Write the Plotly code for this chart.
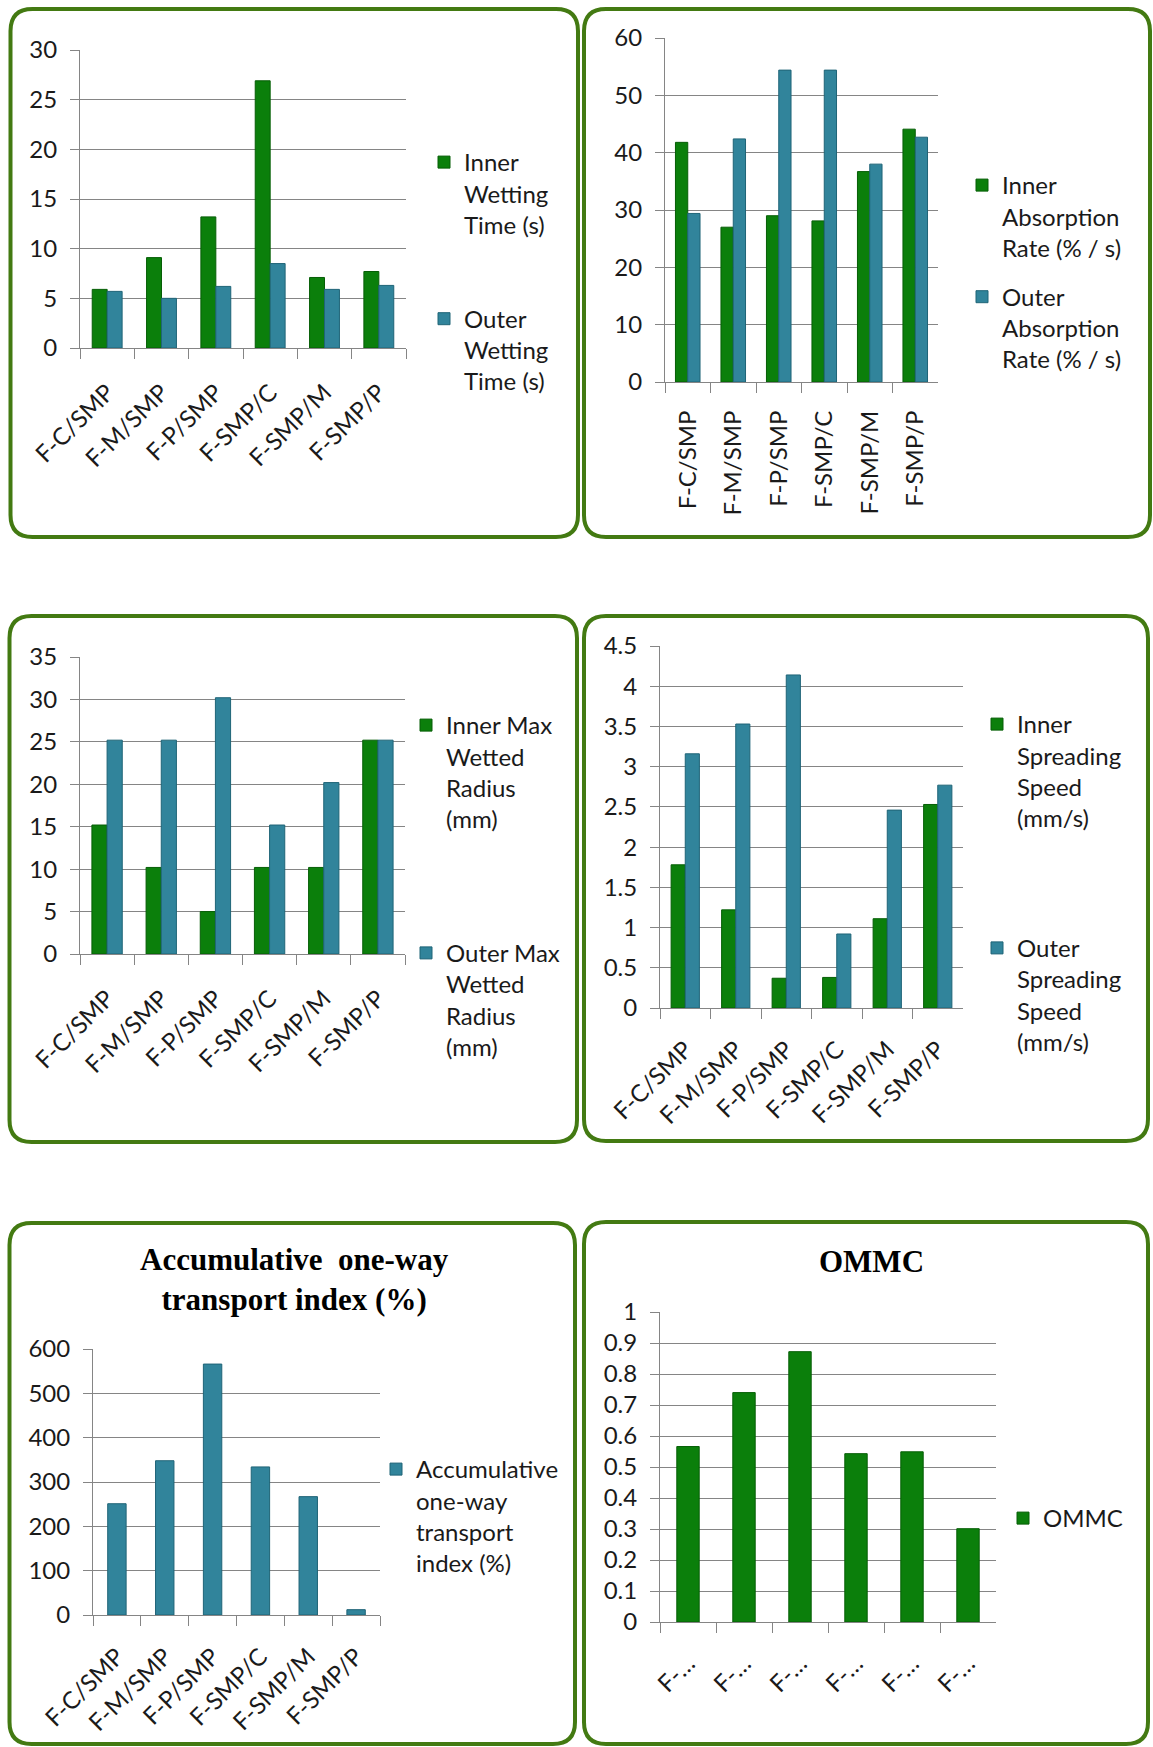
import plotly.graph_objects as go

W, H = 1153, 1747

categories = ["F-C/SMP", "F-M/SMP", "F-P/SMP", "F-SMP/C", "F-SMP/M", "F-SMP/P"]
ommc_ticktext = ["F-…", "F-…", "F-…", "F-…", "F-…", "F-…"]

wetting_inner = [5.9, 9.1, 13.2, 26.9, 7.1, 7.7]
wetting_outer = [5.7, 5.0, 6.2, 8.5, 5.9, 6.3]
absorption_inner = [41.8, 27.0, 29.0, 28.1, 36.7, 44.1]
absorption_outer = [29.4, 42.4, 54.4, 54.4, 38.0, 42.7]
radius_inner = [15.2, 10.2, 5.0, 10.2, 10.2, 25.2]
radius_outer = [25.2, 25.2, 30.2, 15.2, 20.2, 25.2]
speed_inner = [1.78, 1.22, 0.37, 0.38, 1.11, 2.53]
speed_outer = [3.16, 3.53, 4.14, 0.92, 2.46, 2.77]
transport_index = [251, 348, 566, 334, 267, 12]
ommc = [0.566, 0.740, 0.872, 0.543, 0.549, 0.301]

GREEN = "#0B7F0B"
GREEN_EDGE = "#065E06"
BLUE = "#31849B"
BLUE_EDGE = "#1F6477"
GRID = "#858585"
FONT = "Lato"
TXT = "#1A1A1A"


def px_x(v):
    return v / W


def px_y(v):
    return 1 - v / H


fig = go.Figure()

# panel definitions: plot area in pixels (x0, x1, y_top, y_bottom)
panels = [
    dict(area=(80, 406, 50, 348), rng=[0, 30], dtick=5, angle=-45, xstand=20),
    dict(area=(665, 938, 38, 382), rng=[0, 60], dtick=10, angle=-90, xstand=18),
    dict(area=(80, 405, 657, 954), rng=[0, 35], dtick=5, angle=-45, xstand=20),
    dict(area=(660, 963, 646, 1008), rng=[0, 4.5], dtick=0.5, angle=-45, xstand=17),
    dict(area=(93, 380, 1349, 1615), rng=[0, 600], dtick=100, angle=-45, xstand=17),
    dict(area=(660, 996, 1312, 1622), rng=[0, 1], dtick=0.1, angle=-45, xstand=17),
]

series = [
    [("Inner<br>Wetting<br>Time (s)", wetting_inner, "i"), ("Outer<br>Wetting<br>Time (s)", wetting_outer, "o")],
    [("Inner<br>Absorption<br>Rate (% / s)", absorption_inner, "i"), ("Outer<br>Absorption<br>Rate (% / s)", absorption_outer, "o")],
    [("Inner Max<br>Wetted<br>Radius<br>(mm)", radius_inner, "i"), ("Outer Max<br>Wetted<br>Radius<br>(mm)", radius_outer, "o")],
    [("Inner<br>Spreading<br>Speed<br>(mm/s)", speed_inner, "i"), ("Outer<br>Spreading<br>Speed<br>(mm/s)", speed_outer, "o")],
    [("Accumulative<br>one-way<br>transport<br>index (%)", transport_index, "o")],
    [("OMMC", ommc, "i")],
]

bar_w = [0.275, 0.27, 0.28, 0.28, 0.385, 0.40]

# legend: (text start x px, first line center y px, group gap)
legend_pos = [(464, 158, 60), (1002, 181, 15), (446, 721, 100), (1017, 720, 96), (416, 1465, 10), (1043, 1514, 10)]

layout = dict(
    template="none",
    width=W, height=H, margin=dict(l=0, r=0, t=0, b=0, autoexpand=False),
    paper_bgcolor="white", plot_bgcolor="white",
    barmode="overlay", showlegend=True,
    font=dict(family=FONT, size=24, color=TXT),
)

for i, (p, ser) in enumerate(zip(panels, series)):
    n = i + 1
    sfx = "" if n == 1 else str(n)
    x0, x1, yt, yb = p["area"]
    w = bar_w[i]
    for j, (name, vals, kind) in enumerate(ser):
        if len(ser) == 2:
            off = -w if j == 0 else 0
        else:
            off = -w / 2
        fig.add_trace(go.Bar(
            x=categories, y=vals, name=name,
            xaxis="x" + sfx, yaxis="y" + sfx,
            width=w, offset=off,
            marker=dict(color=GREEN if kind == "i" else BLUE,
                        line=dict(color=GREEN_EDGE if kind == "i" else BLUE_EDGE, width=1)),
            legend="legend" + sfx, legendgroup="g%d_%d" % (n, j),
            hoverinfo="skip",
        ))
    xa = dict(
        domain=[px_x(x0), px_x(x1)], anchor="y" + sfx,
        type="category", range=[-0.5, 5.5], automargin=False,
        showline=True, linecolor=GRID, linewidth=1,
        ticks="outside", tickson="boundaries", ticklen=10, tickcolor=GRID,
        ticklabelstandoff=p["xstand"],
        showgrid=False, tickangle=p["angle"],
        tickfont=dict(family=FONT, size=24, color=TXT),
        fixedrange=True,
    )
    if n == 6:
        xa["tickmode"] = "array"
        xa["tickvals"] = categories
        xa["ticktext"] = ommc_ticktext
    ya = dict(
        domain=[px_y(yb), px_y(yt)], anchor="x" + sfx,
        range=p["rng"], dtick=p["dtick"], tick0=0, automargin=False,
        showline=True, linecolor=GRID, linewidth=1,
        showgrid=True, gridcolor=GRID, gridwidth=1,
        zeroline=False,
        ticks="outside", ticklen=9, tickcolor=GRID,
        ticklabelstandoff=8,
        tickfont=dict(family=FONT, size=24, color=TXT),
        fixedrange=True,
    )
    layout["xaxis" + sfx] = xa
    layout["yaxis" + sfx] = ya
    tx, ty, gap = legend_pos[i]
    layout["legend" + sfx] = dict(
        x=px_x(tx - 40), y=px_y(ty - 18), xanchor="left", yanchor="top",
        font=dict(family=FONT, size=24, color=TXT),
        valign="top", traceorder="grouped", tracegroupgap=gap,
        bgcolor="rgba(0,0,0,0)", borderwidth=0,
    )

fig.update_layout(**layout)

# rounded panel frames
frames = [
    (10.5, 578, 9, 537),
    (584, 1150, 9, 537),
    (9.5, 577, 616, 1142),
    (584, 1148, 616, 1141),
    (9.5, 575, 1223, 1744),
    (584, 1148, 1222, 1744),
]
r = 22
for (a, b, t, bt) in frames:
    pts = [
        ("M", (a + r, t)), ("L", (b - r, t)), ("Q", (b, t), (b, t + r)),
        ("L", (b, bt - r)), ("Q", (b, bt), (b - r, bt)),
        ("L", (a + r, bt)), ("Q", (a, bt), (a, bt - r)),
        ("L", (a, t + r)), ("Q", (a, t), (a + r, t)),
    ]
    path = ""
    for cmd in pts:
        c = cmd[0]
        coords = " ".join("%.5f,%.5f" % (px_x(x), px_y(y)) for (x, y) in cmd[1:])
        path += c + coords + " "
    path += "Z"
    fig.add_shape(type="path", path=path, xref="paper", yref="paper",
                  line=dict(color="#437A12", width=4), layer="above")

# chart titles
fig.add_annotation(
    text="<b>Accumulative  one-way<br>transport index (%)</b>",
    x=px_x(294), y=px_y(1279), xref="paper", yref="paper",
    xanchor="center", yanchor="middle", showarrow=False,
    font=dict(family="Liberation Serif", size=31, color="#000000"),
)
fig.add_annotation(
    text="<b>OMMC</b>",
    x=px_x(871), y=px_y(1261), xref="paper", yref="paper",
    xanchor="center", yanchor="middle", showarrow=False,
    font=dict(family="Liberation Serif", size=31, color="#000000"),
)

fig.write_html("out.html")
